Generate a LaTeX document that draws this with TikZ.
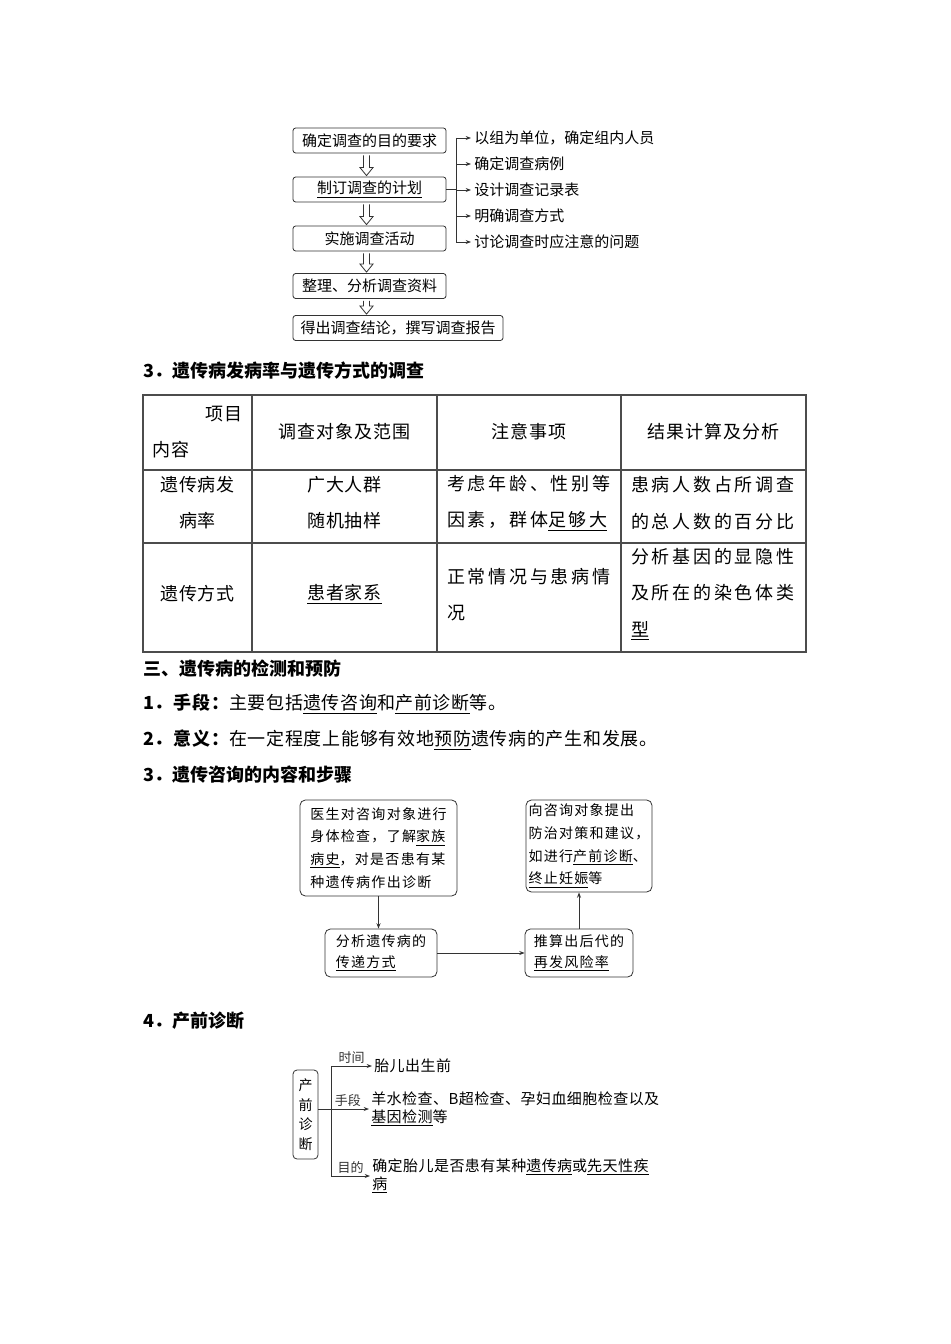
\documentclass[tikz,border=0pt]{standalone}
\usepackage{fontspec}
\setmainfont{Noto Sans CJK SC}
\usepackage{tikz}
\usetikzlibrary{arrows.meta, positioning, calc}

\newcommand{\fs}[2]{\fontsize{#1}{#2}\selectfont}
% 空心箭头（上框到下框）
\newcommand{\hollow}[2]{%
  \draw[line width=0.6pt, black!80]
    ($(#1.south)+(-6,2)$) -- ($(#1.south |- #2.north)+(-6,-9)$)
    -- ($(#1.south |- #2.north)+(-9.5,-9)$) -- ($(#1.south |- #2.north)+(-3,-1)$)
    -- ($(#1.south |- #2.north)+(3.5,-9)$) -- ($(#1.south |- #2.north)+(0,-9)$)
    -- ($(#1.south)+(0,2)$);}

\begin{document}
\begin{tikzpicture}[x=0.75pt, y=-0.75pt,
    >={Stealth[length=4pt, width=3pt]},
    box/.style={draw=black!80, line width=0.6pt, rounded corners=2pt, inner sep=0pt,
                minimum height=18.75pt, font={\fs{11.25}{14}}},
    item/.style={anchor=west, inner xsep=2.25pt, inner ysep=0pt, font={\fs{11.25}{14}}},
    rbox/.style={draw=black!80, line width=0.6pt, rounded corners=4pt, inner sep=0pt,
                 align=left, font={\fs{10.5}{17}\addfontfeatures{LetterSpace=9}}},
    head/.style={anchor=west, inner sep=0pt, font={\bfseries\fs{13.5}{16}}},
    line/.style={anchor=west, inner sep=0pt, font={\fs{13.5}{16}\addfontfeatures{LetterSpace=4}}},
    tline/.style={line width=0.8pt, black!70},
    cell/.style={inner sep=0pt, align=center, font={\fs{13.5}{27}\addfontfeatures{LetterSpace=5}}},
    wide/.style={inner sep=0pt, anchor=west, align=left, font={\fs{13.5}{27.5}\addfontfeatures{LetterSpace=15}}},
    txt/.style={anchor=west, inner xsep=1.5pt, inner ysep=0pt, align=left,
                font={\fs{11.25}{13.5}\addfontfeatures{LetterSpace=3}}},
    lab/.style={inner sep=1.5pt, font={\fs{9.75}{11}}}]

    \useasboundingbox (0,0) rectangle (950,1344);
    \fill[white] (0,0) rectangle (950,1344);

    % 调查流程
    \node[box, minimum width=114.75pt] (b1) at (369.5,140.5) {确定调查的目的要求};
    \node[box, minimum width=114.75pt] (b2) at (369.5,189.5) {\underline{制订调查的计划}};
    \node[box, minimum width=114.75pt] (b3) at (369.5,238.5) {实施调查活动};
    \node[box, minimum width=114.75pt] (b4) at (369.5,286) {整理、分析调查资料};
    \node[box, minimum width=157.5pt] (b5) at (398,328) {得出调查结论，撰写调查报告};
    \hollow{b1}{b2}
    \hollow{b2}{b3}
    \hollow{b3}{b4}
    \hollow{b4}{b5}

    % 计划的内容
    \foreach \lbl [count=\i] in {以组为单位，确定组内人员, 确定调查病例, 设计调查记录表, 明确调查方式, 讨论调查时应注意的问题}
        \node[item] (p\i) at (471,{138+26*(\i-1)}) {\lbl};
    \coordinate (fork) at (456,190);
    \draw[black!80, line width=0.6pt] (b2.east) -- (fork |- b2.east);
    \draw[black!80, line width=0.6pt] (fork |- p1.west) -- (fork |- p5.west);
    \foreach \i in {1,...,5}
        \draw[->, black!80, line width=0.6pt] (fork |- p\i.west) -- (p\i.west);

    % 发病率与遗传方式的调查
    \node[head] (h1) at (143,371) {3．遗传病发病率与遗传方式的调查};
    \draw[tline] (143,395) rectangle (806,652);
    \foreach \x in {252,437,621} \draw[tline] (\x,395) -- (\x,652);
    \foreach \y in {470,543} \draw[tline] (143,\y) -- (806,\y);

    \node[cell, anchor=east] (c0a) at (243,414) {项目};
    \node[cell, anchor=west] (c0b) at (152,450) {内容};
    \node[cell] (c02) at (344.5,432) {调查对象及范围};
    \node[cell] (c03) at (529,432) {注意事项};
    \node[cell] (c04) at (713.5,432) {结果计算及分析};

    \node[cell] (c11) at (197.5,503) {遗传病发\\病率};
    \node[cell] (c12) at (344.5,503) {广大人群\\随机抽样};
    \node[wide] (c13) at (447,503) {考虑年龄、性别等\\因素，群体\underline{足够大}};
    \node[wide] (c14) at (631,503) {患病人数占所调查\\的总人数的百分比};

    \node[cell] (c21) at (197.5,594) {遗传方式};
    \node[cell] (c22) at (344.5,594) {\underline{患者家系}};
    \node[wide] (c23) at (447,594.5) {正常情况与患病情\\况};
    \node[wide] (c24) at (631,594) {分析基因的显隐性\\及所在的染色体类\\\underline{型}};

    % 检测和预防
    \node[head] (h2) at (143,669) {三、遗传病的检测和预防};
    \node[line] (l1) at (143,704) {{\bfseries 1．手段：}主要包括\underline{遗传咨询}和\underline{产前诊断}等。};
    \node[line] (l2) at (143,740) {{\bfseries 2．意义：}在一定程度上能够有效地\underline{预防}遗传病的产生和发展。};
    \node[head] (h3) at (143,775) {3．遗传咨询的内容和步骤};

    % 遗传咨询步骤
    \node[rbox, minimum width=117.75pt, minimum height=72pt] (exam) at (378.5,848)
        {医生对咨询对象进行\\身体检查，了解\underline{家族}\\\underline{病史}，对是否患有某\\种遗传病作出诊断};
    \node[rbox, minimum width=94.5pt, minimum height=69pt] (advice) at (589,846)
        {向咨询对象提出\\防治对策和建议，\\如进行\underline{产前诊断}、\\\underline{终止妊娠}等};
    \node[rbox, minimum width=84pt, minimum height=36pt, font={\fs{10.5}{15.75}\addfontfeatures{LetterSpace=9}}] (mode) at (381,953)
        {分析遗传病的\\\underline{传递方式}};
    \node[rbox, minimum width=81pt, minimum height=36pt, font={\fs{10.5}{15.75}\addfontfeatures{LetterSpace=9}}] (risk) at (579,953)
        {推算出后代的\\\underline{再发风险率}};
    \draw[->, black!80, line width=0.6pt] (exam.south) -- (exam.south |- mode.north);
    \draw[->, black!80, line width=0.6pt] (mode.east) -- (risk.west);
    \draw[->, black!80, line width=0.6pt] (risk.north) -- (risk.north |- advice.south);

    % 产前诊断
    \node[head] (h4) at (143,1021) {4．产前诊断};
    \node[draw=black!80, line width=0.6pt, rounded corners=3pt, inner sep=0pt, align=center,
          minimum width=18.75pt, minimum height=66.75pt, font={\fs{10.5}{14.6}}] (pd) at (305.5,1114.5) {产\\前\\诊\\断};
    \node[txt] (t1) at (372,1066) {胎儿出生前};
    \node[txt] (t2) at (369,1109) {羊水检查、B超检查、孕妇血细胞检查以及\\\underline{基因检测}等};
    \node[txt] (t3) at (370,1176) {确定胎儿是否患有某种\underline{遗传病}或\underline{先天性疾}\\\underline{病}};
    \coordinate (trunk) at (331,1110);
    \draw[black!80, line width=0.6pt] (trunk |- t1.west) -- (trunk |- t3.west);
    \draw[->, black!80, line width=0.6pt] (trunk |- t1.west) -- (t1.west) node[midway, above, lab] {时间};
    \draw[->, black!80, line width=0.6pt] (pd.east |- t2.west) -- (t2.west) node[pos=0.58, above, lab] {手段};
    \draw[->, black!80, line width=0.6pt] (trunk |- t3.west) -- (t3.west) node[midway, above, lab] {目的};
\end{tikzpicture}
\end{document}
